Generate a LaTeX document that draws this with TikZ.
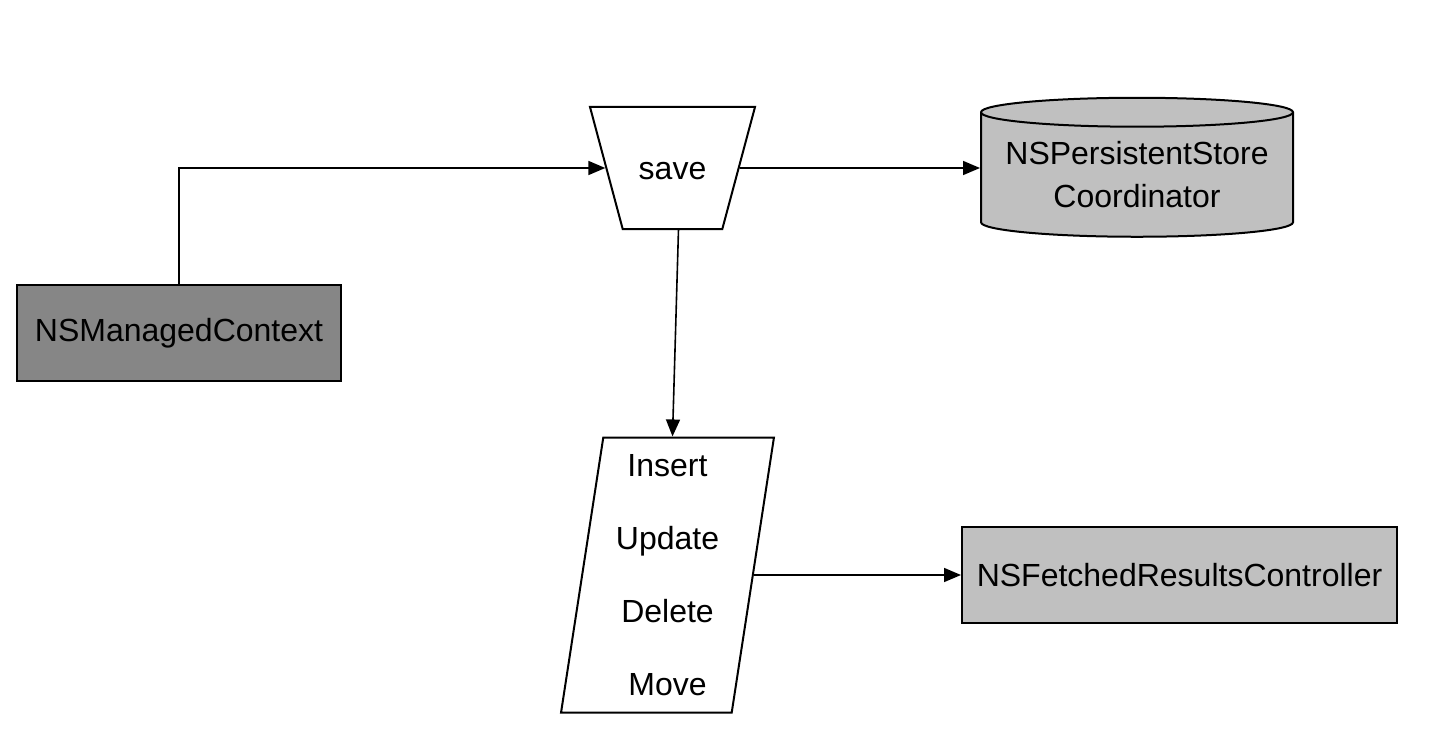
\documentclass[tikz,border=0pt]{standalone}
\usepackage{fontspec}
\setmainfont{Liberation Sans}
\usetikzlibrary{shapes.geometric, arrows.meta}
\definecolor{darkfill}{RGB}{134,134,134}
\definecolor{lightfill}{RGB}{192,192,192}
\tikzstyle{ctxbox}=[rectangle, draw, fill=darkfill, line width=2pt, minimum width=324pt, minimum height=96pt]
\tikzstyle{frcbox}=[rectangle, draw, fill=lightfill, line width=2pt, minimum width=435pt, minimum height=96pt, inner sep=0pt]
\tikzstyle{savebox}=[trapezium, draw, fill=white, line width=2pt, trapezium left angle=75, trapezium right angle=75, shape border rotate=180, trapezium stretches body=true, text height=26pt, text depth=4pt, inner xsep=0pt, inner ysep=46pt, minimum width=165pt, minimum height=122pt]
\tikzstyle{changebox}=[trapezium, draw, fill=white, line width=2pt, trapezium left angle=82, trapezium right angle=98, trapezium stretches=true, minimum width=213pt, minimum height=275pt, inner sep=0pt, align=center, font=\fontsize{32}{73}\selectfont]
\tikzstyle{storebox}=[cylinder, draw, fill=lightfill, line width=2pt, shape border rotate=90, aspect=0.11, minimum width=312pt, minimum height=139pt, inner sep=0pt, align=center, font=\fontsize{32}{43}\selectfont]
\tikzstyle{arr}=[line width=1.6pt, -{Triangle[length=17pt, width=14pt]}]

\begin{document}
\begin{tikzpicture}[x=1pt, y=-1pt, font=\fontsize{32}{38}\selectfont]
    \useasboundingbox (0,0) rectangle (1434,738);
    \coordinate (c0) at (179,333);
    \coordinate (c1) at (672.5,168);
    \coordinate (c2) at (1137,175);
    \coordinate (c3) at (667.5,575);
    \coordinate (c4) at (1179.5,575);
    \node[ctxbox] (ctx) at (c0) {NSManagedContext};
    \node[savebox] (save) at (c1) {save};
    \node[storebox] (store) at (c2) {NSPersistentStore\\Coordinator};
    \node[changebox] (changes) at (c3) {Insert\\Update\\Delete\\Move};
    \node[frcbox] (frc) at (c4) {NSFetchedResultsController};
    \draw[arr] (ctx.north) |- (save);
    \draw[arr] (save) -- (save -| store.west);
    \draw[arr] ([xshift=6pt]save.center |- 0,229) -- ([xshift=5pt]changes.north);
    \draw[arr] (changes.east) -- (frc.west);
\end{tikzpicture}
\end{document}
